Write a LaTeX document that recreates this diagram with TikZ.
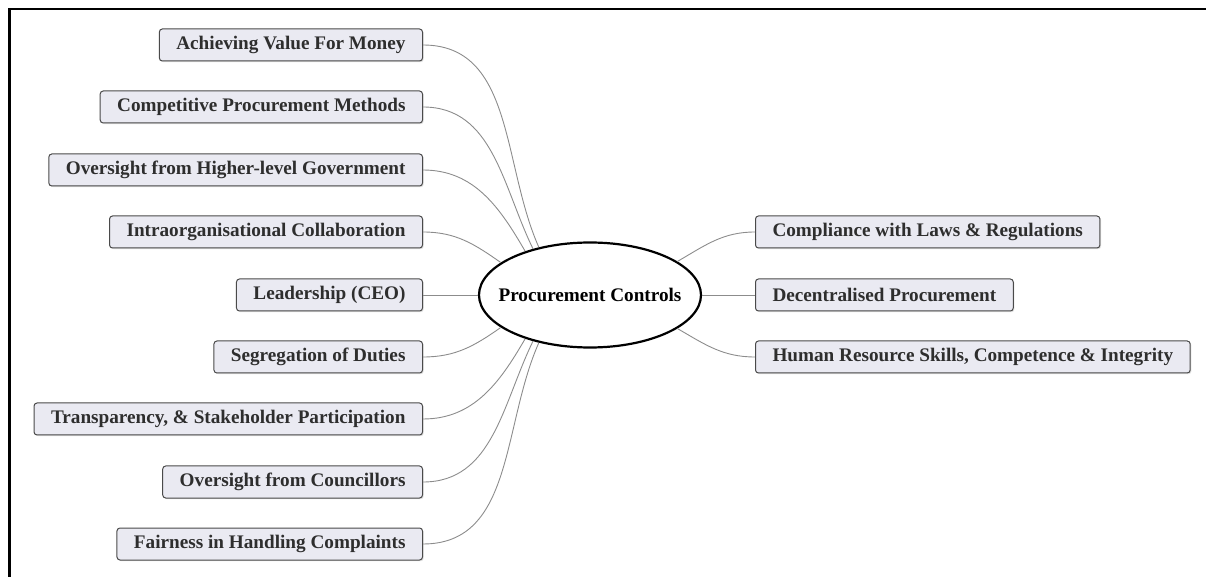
\documentclass[tikz,border=0pt]{standalone}
\usepackage{fontspec}
\setmainfont{Liberation Serif}
\usetikzlibrary{shapes.geometric,shadows}
\definecolor{boxfill}{HTML}{EAEAF2}
\definecolor{boxline}{HTML}{4A4A4A}
\definecolor{textgray}{HTML}{2E2E2E}
\definecolor{linkgray}{HTML}{8C8C8C}
\tikzset{
  topic/.style={draw=boxline, fill=boxfill, line width=0.5pt, rounded corners=1.5pt,
    minimum height=16pt, inner xsep=8.5pt, inner ysep=0pt,
    font=\fontsize{9.6}{11}\selectfont\bfseries, text=textgray,
    drop shadow={shadow xshift=0.6pt, shadow yshift=-0.6pt, opacity=0.25}},
  hub/.style={draw=black, fill=white, ellipse, line width=1.1pt,
    minimum width=111pt, minimum height=52.5pt, inner sep=0pt},
  hubtext/.style={font=\fontsize{9.6}{11}\selectfont\bfseries, text=black, inner sep=0pt},
  link/.style={draw=linkgray, line width=0.45pt},
  frameline/.style={draw=black, line width=1.3pt}
}
\begin{document}
\begin{tikzpicture}[x=0.5pt,y=0.5pt]
  \useasboundingbox (0,0) rectangle (1206,-577);
  % frame edges
  \draw[frameline] (9.5,-577) -- (9.5,-9) -- (1206,-9);

  % central topic
  \node[hub] (c) at (590,-295) {};
  \node[hubtext] (ct) at (c.center) {Procurement Controls};

  % left-hand topics
  \node[topic, anchor=east] (l1) at (423,-45)  {Achieving Value For Money};
  \node[topic, anchor=east] (l2) at (423,-107) {Competitive Procurement Methods};
  \node[topic, anchor=east] (l3) at (423,-170) {Oversight from Higher-level Government};
  \node[topic, anchor=east] (l4) at (423,-232) {Intraorganisational Collaboration};
  \node[topic, anchor=east] (l5) at (423,-295) {Leadership (CEO)};
  \node[topic, anchor=east] (l6) at (423,-357) {Segregation of Duties};
  \node[topic, anchor=east] (l7) at (423,-419) {Transparency, \& Stakeholder Participation};
  \node[topic, anchor=east] (l8) at (423,-482) {Oversight from Councillors};
  \node[topic, anchor=east] (l9) at (423,-544) {Fairness in Handling Complaints};

  % right-hand topics
  \node[topic, anchor=west] (r1) at (755,-232) {Compliance with Laws \& Regulations};
  \node[topic, anchor=west] (r2) at (755,-295) {Decentralised Procurement};
  \node[topic, anchor=west] (r3) at (755,-357) {Human Resource Skills, Competence \& Integrity};

  % connectors
  \draw[link] (l1.east) to[out=0,in=114] (c.137);
  \draw[link] (l2.east) to[out=0,in=116] (c.141);
  \draw[link] (l3.east) to[out=0,in=120] (c.146);
  \draw[link] (l4.east) to[out=0,in=145] (c.160);
  \draw[link] (l5.east) -- (c.west);
  \draw[link] (l6.east) to[out=0,in=-145] (c.200);
  \draw[link] (l7.east) to[out=0,in=-120] (c.214);
  \draw[link] (l8.east) to[out=0,in=-116] (c.219);
  \draw[link] (l9.east) to[out=0,in=-114] (c.223);
  \draw[link] (r1.west) to[out=180,in=30] (c.21);
  \draw[link] (r2.west) -- (c.east);
  \draw[link] (r3.west) to[out=180,in=-30] (c.-21);
\end{tikzpicture}
\end{document}
